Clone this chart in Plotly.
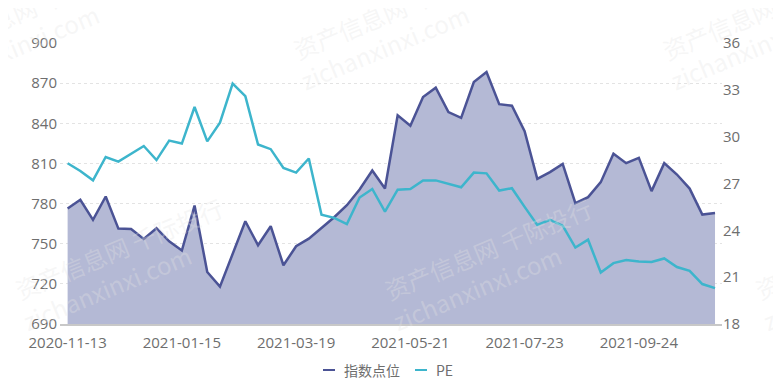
import plotly.graph_objects as go
import pandas as pd

dates = [d.strftime("%Y-%m-%d") for d in pd.date_range("2020-11-13", periods=52, freq="7D")]

index_points = [776.3, 782.8, 767.8, 785.3, 761.3, 761.0, 753.6, 761.6, 751.8, 744.9,
                778.5, 728.9, 717.9, 742.5, 766.8, 748.9, 763.1, 733.9, 748.1, 753.8,
                761.8, 769.8, 778.8, 790.5, 804.7, 791.2, 845.9, 838.1, 859.6, 866.6,
                848.4, 844.1, 870.8, 878.3, 854.3, 853.1, 834.1, 798.5, 803.5, 809.7,
                780.3, 784.8, 796.0, 817.2, 810.2, 814.2, 789.3, 810.2, 801.7, 791.2,
                771.8, 773.0]

pe = [28.3, 27.8, 27.2, 28.7, 28.4, 28.9, 29.4, 28.5, 29.75, 29.56,
      31.9, 29.7, 30.9, 33.4, 32.6, 29.5, 29.2, 28.0, 27.7, 28.6,
      25.0, 24.8, 24.4, 26.1, 26.65, 25.2, 26.6, 26.65, 27.2, 27.2,
      27.0, 26.76, 27.7, 27.65, 26.55, 26.7, 25.5, 24.35, 24.67, 24.3,
      22.9, 23.4, 21.3, 21.9, 22.1, 22.0, 21.97, 22.2, 21.65, 21.4,
      20.56, 20.3]

tick_labels = ["2020-11-13", "2021-01-15", "2021-03-19", "2021-05-21", "2021-07-23", "2021-09-24"]
left_ticks = [690, 720, 750, 780, 810, 840, 870, 900]
right_ticks = [18, 21, 24, 27, 30, 33, 36]
series_names = ["指数点位", "PE"]
watermark_lines = ["资产信息网 千际投行", "zichanxinxi.com"]

INDEX_COLOR = "#4b5395"
PE_COLOR = "#3db5cc"
FILL_COLOR = "rgb(180,185,213)"
font_family = "Open Sans, Noto Sans CJK SC, sans-serif"
cjk_family = "Noto Sans CJK SC, Open Sans, sans-serif"
label_color = "#6e6e6e"

# page has an 8px body margin; the figure starts at (8, 8)
OFF = 8
FIG_W, FIG_H = 781 - OFF, 387 - OFF
# plot area in page pixels
L, R, T, B = 60, 722, 43, 324
W, H = R - L, B - T


def px(xp):
    return (xp - L) / W


def py(yp):
    return (B - yp) / H


fig = go.Figure()
fig.add_trace(go.Scatter(
    x=dates, y=index_points, name=series_names[0], mode="lines",
    line=dict(color=INDEX_COLOR, width=2.5),
    fill="tozeroy", fillcolor=FILL_COLOR,
    yaxis="y", showlegend=False,
))
fig.add_trace(go.Scatter(
    x=dates, y=pe, name=series_names[1], mode="lines",
    line=dict(color=PE_COLOR, width=2.5),
    yaxis="y2", showlegend=False,
))

annotations = []
# watermark tiles (line1 start points, page pixels)
starts = [(10, 293), (380, 293), (750, 293), (-82, 53), (288, 53), (658, 53)]
for sx, sy in starts:
    c1 = (sx + 108, sy - 45)
    c2 = (c1[0] - 11, c1[1] + 39)
    for (cx, cy), txt in zip([c1, c2], watermark_lines):
        annotations.append(dict(
            x=px(cx), y=py(cy), xref="paper", yref="paper", text=txt,
            showarrow=False, textangle=-22.5, xanchor="center", yanchor="middle",
            font=dict(size=24, color="rgba(228,228,228,0.32)", family=cjk_family),
        ))

# custom legend
shapes = []
legend_y = 370
for (x0, x1, tx), name, color in zip([(323, 335, 342), (415, 427, 434)], series_names, [INDEX_COLOR, PE_COLOR]):
    shapes.append(dict(type="line", xref="paper", yref="paper",
                       x0=px(x0), x1=px(x1), y0=py(legend_y), y1=py(legend_y),
                       line=dict(color=color, width=2)))
    annotations.append(dict(x=px(tx), y=py(legend_y), xref="paper", yref="paper",
                            text=name, showarrow=False, xanchor="left", yanchor="middle",
                            font=dict(size=14, color=label_color, family=cjk_family)))

fig.update_layout(
    width=FIG_W, height=FIG_H,
    margin=dict(l=L - OFF, r=781 - R, t=T - OFF, b=387 - B),
    paper_bgcolor="white", plot_bgcolor="white",
    font=dict(family=font_family, size=15, color=label_color),
    showlegend=False,
    annotations=annotations,
    shapes=shapes,
    xaxis=dict(
        type="category", range=[-0.6, 51.55],
        tickvals=tick_labels, ticktext=tick_labels,
        showgrid=False, showline=True, linecolor="#c8c8c8", linewidth=2,
        ticks="", tickfont=dict(size=15, color=label_color),
        zeroline=False, ticklabelstandoff=4,
    ),
    yaxis=dict(
        range=[690, 900], tickvals=left_ticks,
        showgrid=True, gridcolor="#e3e3e3", griddash="dot", gridwidth=1,
        zeroline=False, showline=False, ticks="",
        tickfont=dict(size=15, color=label_color),
        ticklabelstandoff=2,
    ),
    yaxis2=dict(
        range=[18, 36], tickvals=right_ticks, overlaying="y", side="right",
        showgrid=False, zeroline=False, showline=False, ticks="",
        tickfont=dict(size=15, color=label_color),
        ticklabelstandoff=0,
    ),
)

fig.write_html("out.html")
